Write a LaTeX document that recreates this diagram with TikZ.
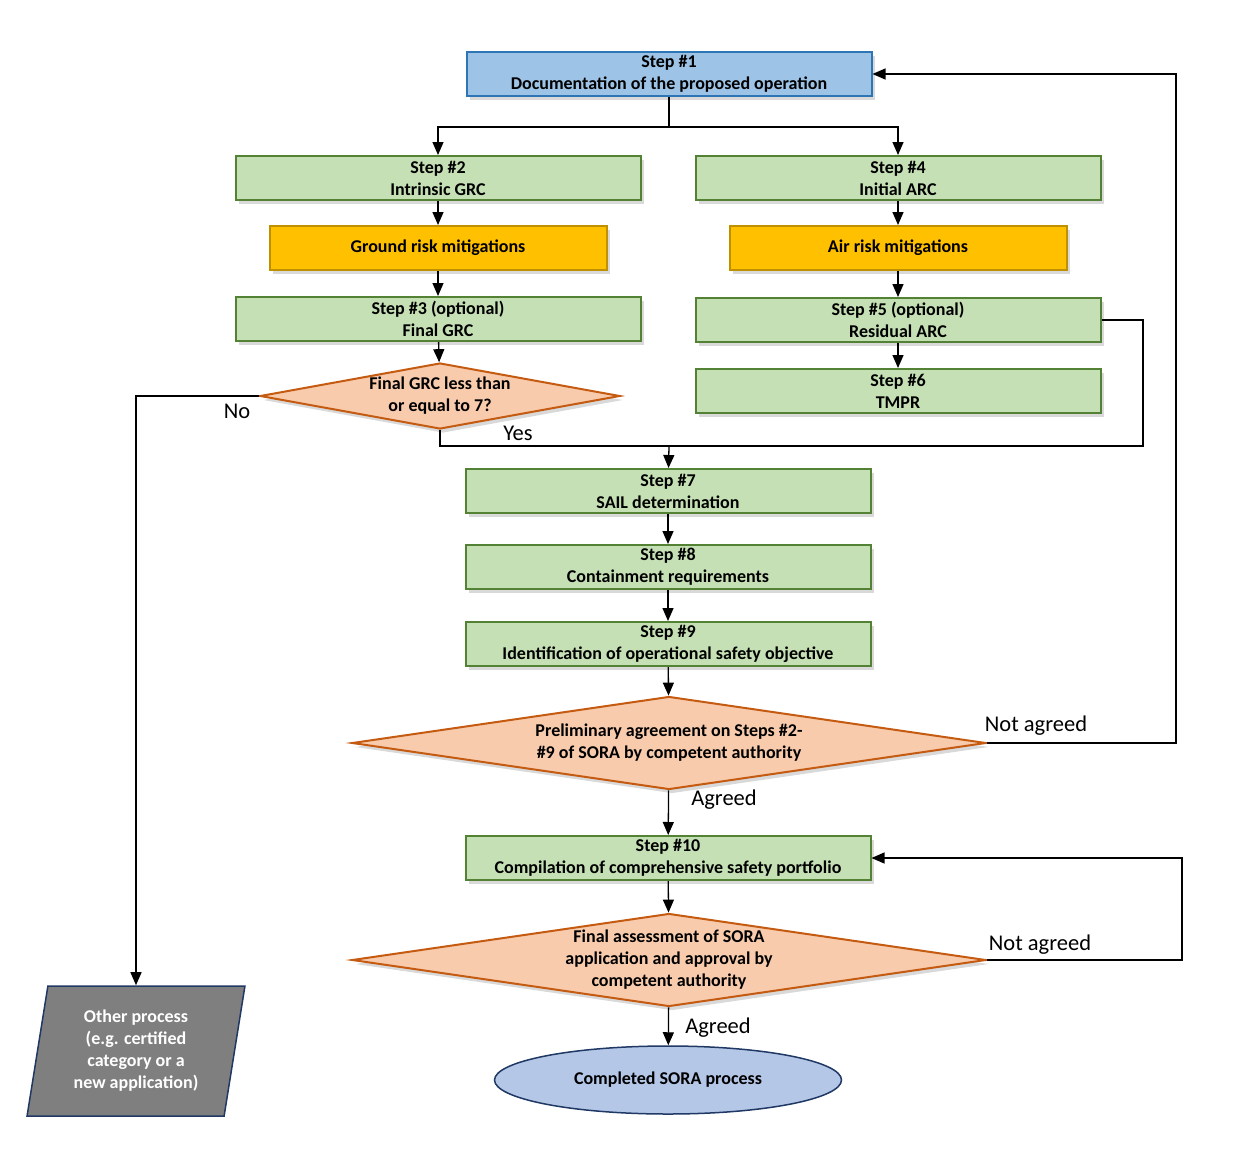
\documentclass[tikz,border=0pt]{standalone}
\usepackage{fontspec}
\setmainfont{Carlito}
\usepackage{xcolor}
\usetikzlibrary{arrows.meta, shapes.geometric, shadows, positioning}

\definecolor{bluefill}{HTML}{9DC3E6}
\definecolor{blueline}{HTML}{2E75B6}
\definecolor{stepfill}{HTML}{C5E0B4}
\definecolor{stepline}{HTML}{548235}
\definecolor{mitfill}{HTML}{FFC000}
\definecolor{mitline}{HTML}{BF9000}
\definecolor{decfill}{HTML}{F8CBAD}
\definecolor{decline}{HTML}{C55A11}
\definecolor{endfill}{HTML}{B4C7E7}
\definecolor{navyline}{HTML}{203864}
\definecolor{otherfill}{HTML}{7F7F7F}

\tikzset{
    boxfont/.style={font=\fontsize{18}{22}\selectfont\bfseries},
    shade3/.style={drop shadow={shadow xshift=3pt, shadow yshift=-4pt, opacity=0.3}},
    stepbox/.style={rectangle, draw=stepline, fill=stepfill, line width=2pt,
        minimum width=405pt, minimum height=44pt, inner sep=2pt,
        align=center, boxfont, shade3},
    mitbox/.style={stepbox, draw=mitline, fill=mitfill, minimum width=337pt},
    decision/.style={diamond, draw=decline, fill=decfill, line width=2pt,
        inner sep=0pt, align=center, boxfont, shade3},
    lbl/.style={font=\fontsize{22.5}{27}\selectfont},
    conn/.style={line width=1.3pt, draw=black}
}

\begin{document}
\begin{tikzpicture}[>={Triangle[length=13pt, width=11pt]}, x=1pt, y=-1pt]
    \useasboundingbox (0,0) rectangle (1236,1164);

    % Boxes
    \node[stepbox, draw=blueline, fill=bluefill] (s1) at (669,74)
        {Step \#1\\Documentation of the proposed operation};
    \node[stepbox] (s2) at (438,178) {Step \#2\\Intrinsic GRC};
    \node[stepbox] (s4) at (898,178) {Step \#4\\Initial ARC};
    \node[mitbox] (ground) at (438,248) {Ground risk mitigations};
    \node[mitbox] (air) at (898,248) {Air risk mitigations};
    \node[stepbox] (s3) at (438,319) {Step \#3 (optional)\\Final GRC};
    \node[stepbox] (s5) at (898,320) {Step \#5 (optional)\\Residual ARC};
    \node[stepbox] (s6) at (898,391) {Step \#6\\TMPR};
    \node[decision, aspect=5.45, minimum width=360pt, minimum height=66pt]
        (grc) at (440,396) {Final GRC less than\\or equal to 7?};
    \node[stepbox] (s7) at (668,491) {Step \#7\\SAIL determination};
    \node[stepbox] (s8) at (668,567) {Step \#8\\Containment requirements};
    \node[stepbox] (s9) at (668,644)
        {Step \#9\\Identification of operational safety objective};
    \node[decision, aspect=6.82, minimum width=634pt, minimum height=93pt]
        (prelim) at (669,743)
        {Preliminary agreement on Steps \#2-\\\#9 of SORA by competent authority};
    \node[stepbox] (s10) at (668,858)
        {Step \#10\\Compilation of comprehensive safety portfolio};
    \node[decision, aspect=6.82, minimum width=634pt, minimum height=93pt]
        (final) at (669,960)
        {Final assessment of SORA\\application and approval by\\competent authority};
    \node[ellipse, draw=navyline, fill=endfill, line width=1.5pt, boxfont,
        minimum width=347pt, minimum height=68pt] (done) at (668,1080)
        {Completed SORA process};
    \node[trapezium, trapezium left angle=80, trapezium right angle=100,
        trapezium stretches=true, draw=navyline, fill=otherfill, line width=1.5pt,
        minimum width=218pt, minimum height=130pt, align=center, boxfont,
        text=white] (other) at (136,1051)
        {Other process\\(e.g. certified\\category or a\\new application)};

    % Helper points
    \coordinate (fork) at (669,127);
    \coordinate (merge) at (669,446);
    \coordinate (yesR) at (1143,446);
    \coordinate (back1) at (1176,743);
    \coordinate (back2) at (1182,960);

    % Connectors
    \draw[conn] (s1) -- (fork);
    \draw[conn, ->] (fork) -| (s2);
    \draw[conn, ->] (fork) -| (s4);
    \draw[conn, ->] (s2) -- (ground);
    \draw[conn, ->] (ground) -- (s3);
    \draw[conn, ->] (s3) -- (grc);
    \draw[conn, ->] (s4) -- (air);
    \draw[conn, ->] (air) -- (s5);
    \draw[conn, ->] (s5) -- (s6);
    \draw[conn, ->] (grc.west) -| (other);
    \draw[conn] (grc.south) |- (yesR) |- (s5.east);
    \draw[conn, ->] (merge) -- (s7);
    \draw[conn, ->] (s7) -- (s8);
    \draw[conn, ->] (s8) -- (s9);
    \draw[conn, ->] (s9) -- (prelim);
    \draw[conn, ->] (prelim) -- (s10);
    \draw[conn, ->] (prelim.east) -- (back1) |- (s1.east);
    \draw[conn, ->] (s10) -- (final);
    \draw[conn, ->] (final.east) -- (back2) |- (s10.east);
    \draw[conn, ->] (final) -- (done);

    % Labels
    \node[lbl] (no) at (237,411) {No};
    \node[lbl] (yes) at (518,433) {Yes};
    \node[lbl] (notagreed1) at (1036,726) {Not agreed};
    \node[lbl] (agreed1) at (724,800) {Agreed};
    \node[lbl] (notagreed2) at (1040,945) {Not agreed};
    \node[lbl] (agreed2) at (718,1028) {Agreed};
\end{tikzpicture}
\end{document}
